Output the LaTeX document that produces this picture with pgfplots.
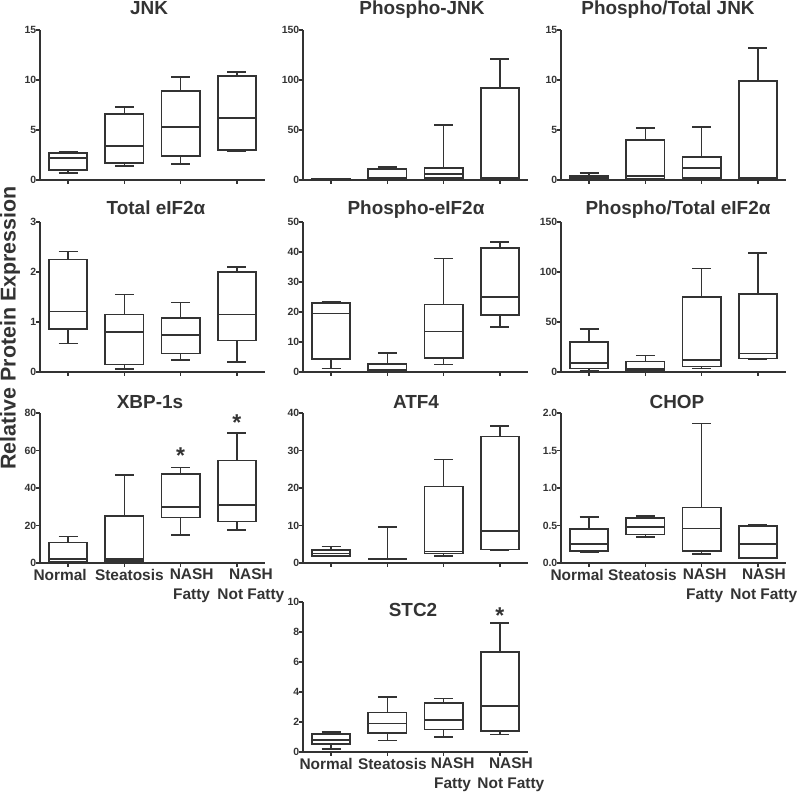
\documentclass[border=0pt]{standalone}
\usepackage{fontspec}
\setmainfont{Liberation Sans}
\usepackage{pgfplots}
\usepackage{pgfplotstable}
\pgfplotsset{compat=1.18}
\usepgfplotslibrary{statistics}
\definecolor{ink}{HTML}{333333}

\newcommand\sh[2]{\hspace*{#1}#2\hspace*{-#1}}

\pgfplotstableread{
lw q1 med q3 uw
0.67 1.0 2.17 2.67 2.83
1.43 1.67 3.4 6.57 7.33
1.6 2.43 5.27 8.9 10.33
2.9 2.97 6.17 10.37 10.77
}\tJNK
\pgfplotstableread{
lw q1 med q3 uw
0.2 0.3 0.5 0.8 1.5
0.5 1.0 2.0 10.7 13.3
1.0 1.7 6.3 12.3 55
1.0 1.3 2.3 91.7 121
}\tPJNK
\pgfplotstableread{
lw q1 med q3 uw
0.07 0.1 0.17 0.43 0.7
0.1 0.13 0.37 4.0 5.17
0.1 0.17 1.17 2.33 5.33
0.1 0.13 0.23 9.93 13.17
}\tPTJNK
\pgfplotstableread{
lw q1 med q3 uw
0.57 0.86 1.21 2.25 2.41
0.06 0.15 0.80 1.15 1.55
0.24 0.37 0.74 1.08 1.39
0.20 0.63 1.15 2.00 2.10
}\tTeIF
\pgfplotstableread{
lw q1 med q3 uw
1.2 4.35 19.5 23.1 23.5
0.1 0.3 0.8 2.6 6.25
2.5 4.6 13.5 22.5 37.8
15.1 19.0 24.9 41.3 43.3
}\tPeIF
\pgfplotstableread{
lw q1 med q3 uw
0.7 3.4 9.1 29.8 42.7
0.7 1.0 2.7 10.5 16.6
3.4 5.4 12.2 74.8 103.6
12.9 13.5 18.6 78.2 118.9
}\tPTeIF
\pgfplotstableread{
lw q1 med q3 uw
0.2 0.5 2.0 11.0 14.2
0.5 0.9 2.0 24.9 46.8
14.9 24.2 29.9 47.3 51.0
17.6 22.2 30.8 54.6 69.5
}\tXBP
\pgfplotstableread{
lw q1 med q3 uw
1.7 1.9 2.5 3.4 4.4
1.1 1.1 1.1 1.1 9.6
1.9 2.5 3.1 20.4 27.6
3.4 3.6 8.5 33.7 36.5
}\tATF
\pgfplotstableread{
lw q1 med q3 uw
0.15 0.16 0.25 0.45 0.61
0.35 0.38 0.48 0.60 0.63
0.12 0.16 0.46 0.74 1.86
0.06 0.07 0.25 0.49 0.51
}\tCHOP
\pgfplotstableread{
lw q1 med q3 uw
0.18 0.53 0.78 1.22 1.31
0.76 1.27 1.89 2.64 3.67
1.0 1.49 2.11 3.27 3.56
1.16 1.38 3.07 6.67 8.6
}\tSTC

\newcommand\boxes[1]{%
  \pgfplotsinvokeforeach{0,1,2,3}{%
    \pgfplotstablegetelem{##1}{lw}\of#1\edef\vlw{\pgfplotsretval}%
    \pgfplotstablegetelem{##1}{q1}\of#1\edef\vqa{\pgfplotsretval}%
    \pgfplotstablegetelem{##1}{med}\of#1\edef\vmd{\pgfplotsretval}%
    \pgfplotstablegetelem{##1}{q3}\of#1\edef\vqb{\pgfplotsretval}%
    \pgfplotstablegetelem{##1}{uw}\of#1\edef\vuw{\pgfplotsretval}%
    \edef\doplot{\noexpand\addplot[bx, boxplot prepared={draw position=##1,
      lower whisker=\vlw, lower quartile=\vqa, median=\vmd,
      upper quartile=\vqb, upper whisker=\vuw}] coordinates {};}%
    \doplot
  }%
}

\pgfplotsset{
  panel/.style={
    scale only axis, width=225bp, height=150bp,
    axis lines*=left,
    axis line style={draw=ink, line width=1.5bp},
    xmin=-0.5, xmax=3.5, ymin=0,
    xtick={0,1,2,3}, xticklabels={},
    tick align=outside, major tick length=4bp,
    tick style={draw=ink, line width=1.3bp},
    yticklabel style={font=\bfseries\fontsize{10.5}{10.5}\selectfont, text=ink, inner sep=1bp, xshift=1.5bp},
    xticklabel style={font=\bfseries\fontsize{15.5}{20}\selectfont, text=ink, align=center, inner sep=2bp},
    /pgf/number format/assume math mode=true,
    clip=false,
    boxplot/draw direction=y,
    boxplot/box extend=0.68,
    boxplot/whisker extend=0.34,
  },
  bx/.style={draw=ink, line width=1.7bp, solid},
  catlabels/.style n args={4}{xticklabels={{\sh{#1bp}{Normal}},{\sh{#2bp}{Steatosis}},{\sh{#3bp}{NASH}\\\sh{#3bp}{Fatty}},{\sh{#4bp}{NASH}\\\sh{#4bp}{Not Fatty}}}},
}
\tikzset{ttl/.style={font=\bfseries\fontsize{19}{19}\selectfont, text=ink, anchor=base, inner sep=0pt},
  star/.style={font=\bfseries\fontsize{23}{23}\selectfont, text=ink, anchor=base, yshift=-13.2bp, inner sep=0pt}}

\begin{document}
\begin{tikzpicture}[x=1bp,y=1bp]
\useasboundingbox (0,0) rectangle (800,794);
% Row 1
\begin{axis}[panel, at={(40bp,614bp)}, anchor=south west, ymax=15, ytick={0,5,10,15}]
\boxes{\tJNK}
\end{axis}
\begin{axis}[panel, at={(303bp,614bp)}, anchor=south west, ymax=150, ytick={0,50,100,150}]
\boxes{\tPJNK}
\end{axis}
\begin{axis}[panel, at={(561bp,614bp)}, anchor=south west, ymax=15, ytick={0,5,10,15}]
\boxes{\tPTJNK}
\end{axis}
% Row 2
\begin{axis}[panel, at={(40bp,422bp)}, anchor=south west, ymax=3, ytick={0,1,2,3}]
\boxes{\tTeIF}
\end{axis}
\begin{axis}[panel, at={(303bp,422bp)}, anchor=south west, ymax=50, ytick={0,10,...,50}]
\boxes{\tPeIF}
\end{axis}
\begin{axis}[panel, at={(561bp,422bp)}, anchor=south west, ymax=150, ytick={0,50,100,150}]
\boxes{\tPTeIF}
\end{axis}
% Row 3
\begin{axis}[panel, catlabels={-8}{5}{11}{14}, at={(40bp,231bp)}, anchor=south west, ymax=80, ytick={0,20,...,80}]
\boxes{\tXBP}
\node[star] at (axis cs:2,60.1) {*};
\node[star] at (axis cs:3,77.7) {*};
\end{axis}
\begin{axis}[panel, at={(303bp,231bp)}, anchor=south west, ymax=40, ytick={0,10,...,40}]
\boxes{\tATF}
\end{axis}
\begin{axis}[panel, catlabels={-12}{-3}{3}{6}, at={(561bp,231bp)}, anchor=south west, ymax=2, ytick={0,0.5,...,2},
  yticklabel style={/pgf/number format/.cd, fixed, fixed zerofill, precision=1}]
\boxes{\tCHOP}
\end{axis}
% Row 4
\begin{axis}[panel, catlabels={-5}{5}{9}{11}, at={(303bp,42bp)}, anchor=south west, ymax=10, ytick={0,2,...,10}]
\boxes{\tSTC}
\node[star] at (axis cs:3,9.42) {*};
\end{axis}
% Titles
\node[ttl] at (149,779) {JNK};
\node[ttl] at (422,779) {Phospho-JNK};
\node[ttl] at (668,779) {Phospho/Total JNK};
\node[ttl] at (156,579) {Total eIF2α};
\node[ttl] at (416,579) {Phospho-eIF2α};
\node[ttl] at (678,579) {Phospho/Total eIF2α};
\node[ttl] at (150,385) {XBP-1s};
\node[ttl] at (416,385) {ATF4};
\node[ttl] at (677,385) {CHOP};
\node[ttl] at (413,177) {STC2};
\node[rotate=90, anchor=base, font=\bfseries\fontsize{21.5}{21.5}\selectfont, text=ink, inner sep=0pt] at (15.5,466) {Relative Protein Expression};
\end{tikzpicture}
\end{document}
